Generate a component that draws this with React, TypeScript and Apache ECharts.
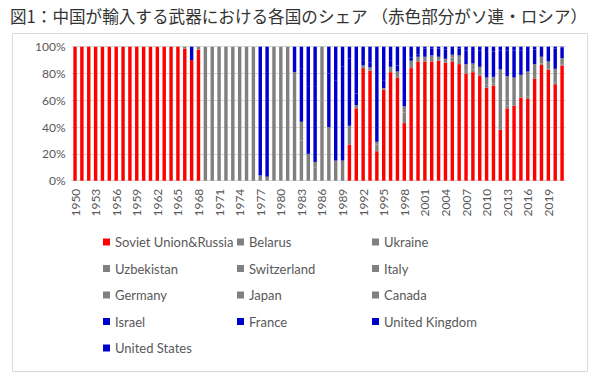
import React, { useEffect, useRef } from "react";
import * as echarts from "echarts";

const TITLE = "図1：中国が輸入する武器における各国のシェア （赤色部分がソ連・ロシア）";

const years: string[] = [];
for (let y = 1950; y <= 2021; y++) years.push(String(y));

const yTicks = [0, 20, 40, 60, 80, 100];

// [year, share %]
const soviet: [number, number][] = [
  [1950, 100], [1951, 100], [1952, 100], [1953, 100], [1954, 100], [1955, 100], [1956, 100], [1957, 100], [1958, 100], [1959, 100],
  [1960, 100], [1961, 100], [1962, 100], [1963, 100], [1964, 100], [1965, 100], [1966, 98.5], [1967, 90], [1968, 98],
  [1990, 27], [1991, 54], [1992, 84], [1993, 82], [1994, 22], [1995, 68], [1996, 81], [1997, 77], [1998, 43], [1999, 84],
  [2000, 89], [2001, 89], [2002, 89], [2003, 89.5], [2004, 88], [2005, 89], [2006, 87], [2007, 80], [2008, 81], [2009, 78.5],
  [2010, 69.5], [2011, 71], [2012, 38], [2013, 54], [2014, 56], [2015, 62], [2016, 61], [2017, 76], [2018, 86.5], [2019, 83],
  [2020, 72], [2021, 86],
];
const belarus: [number, number][] = [
  [2007, 2], [2008, 2], [2009, 1.5], [2010, 2], [2011, 1.5], [2012, 2], [2013, 2], [2014, 2], [2015, 2], [2016, 2],
  [2017, 2], [2018, 1], [2019, 1], [2020, 1.5], [2021, 0.5],
];
const ukraine: [number, number][] = [
  [1992, 2], [1993, 2.5], [1994, 5], [1995, 1], [1996, 4], [1997, 4.5], [1998, 8], [1999, 5.5],
  [2000, 3.5], [2001, 3.5], [2002, 4.5], [2003, 3], [2004, 3], [2005, 3], [2006, 4], [2007, 5], [2008, 4.5], [2009, 5],
  [2010, 5.5], [2011, 5], [2012, 43], [2013, 22], [2014, 19], [2015, 15], [2016, 18.5], [2017, 9], [2018, 5], [2019, 5],
  [2020, 10], [2021, 5],
];
const uzbekistan: [number, number][] = [[1998, 4.5], [2005, 2], [2006, 2.5]];
const switzerland: [number, number][] = [[1966, 1.5], [1968, 2], [1991, 2.5], [1994, 2]];
const italy: [number, number][] = [
  [1983, 30], [1984, 20], [1985, 10], [1986, 60], [1987, 40], [1988, 15], [1989, 15], [1990, 14],
];
const germany: [number, number][] = [
  [1969, 100], [1970, 100], [1971, 100], [1972, 100], [1973, 100], [1974, 100], [1975, 100], [1976, 100],
  [1977, 4], [1978, 3], [1979, 100], [1980, 100], [1981, 100], [1982, 81], [1986, 40],
];
const japan: [number, number][] = [[1983, 14]];
const canada: [number, number][] = [[1985, 4]];
const israel: [number, number][] = [
  [1991, 8.5], [1992, 4], [1993, 3.5], [1994, 11], [1995, 6], [1996, 5], [1997, 4.5], [1998, 8.5], [1999, 2.5], [2000, 1.5],
];
const france: [number, number][] = [
  [1967, 10], [1982, 19], [1983, 40], [1984, 50], [1985, 56], [1987, 40], [1988, 60], [1989, 70],
  [1990, 50], [1991, 35], [1992, 10], [1993, 12], [1994, 60], [1995, 25], [1996, 10], [1997, 14], [1998, 36], [1999, 8],
  [2000, 6], [2001, 6], [2002, 5], [2003, 6], [2004, 7], [2005, 5], [2006, 5], [2007, 10], [2008, 10], [2009, 12],
  [2010, 19], [2011, 19], [2012, 14], [2013, 19], [2014, 20], [2015, 18], [2016, 16], [2017, 11], [2018, 6.5], [2019, 10],
  [2020, 15], [2021, 8],
];
const unitedKingdom: [number, number][] = [
  [1977, 96], [1978, 97], [1983, 16], [1990, 9],
  [2001, 1.5], [2002, 1.5], [2003, 1.5], [2004, 2], [2005, 1], [2006, 1.5], [2007, 3], [2008, 2.5], [2009, 3],
  [2010, 4], [2011, 3.5], [2012, 3], [2013, 3], [2014, 3], [2015, 3], [2016, 2.5], [2017, 2], [2018, 1], [2019, 1],
  [2020, 1.5], [2021, 0.5],
];
const unitedStates: [number, number][] = [[1984, 30], [1985, 30], [1987, 20], [1988, 25], [1989, 15]];

const RED = "#FF0000";
const GRAY = "#808080";
const BLUE = "#0000CC";

const countries = [
  { name: "Soviet Union&Russia", color: RED, values: soviet },
  { name: "Belarus", color: GRAY, values: belarus },
  { name: "Ukraine", color: GRAY, values: ukraine },
  { name: "Uzbekistan", color: GRAY, values: uzbekistan },
  { name: "Switzerland", color: GRAY, values: switzerland },
  { name: "Italy", color: GRAY, values: italy },
  { name: "Germany", color: GRAY, values: germany },
  { name: "Japan", color: GRAY, values: japan },
  { name: "Canada", color: GRAY, values: canada },
  { name: "Israel", color: BLUE, values: israel },
  { name: "France", color: BLUE, values: france },
  { name: "United Kingdom", color: BLUE, values: unitedKingdom },
  { name: "United States", color: BLUE, values: unitedStates },
];

const legendCols = [
  { left: 103, names: ["Soviet Union&Russia", "Uzbekistan", "Germany", "Israel", "United States"] },
  { left: 237, names: ["Belarus", "Switzerland", "Japan", "France"] },
  { left: 372, names: ["Ukraine", "Italy", "Canada", "United Kingdom"] },
];

const FONT = "Lato, 'Liberation Sans', sans-serif";
const TXT = "#595959";

export default function App() {
  const ref = useRef<HTMLDivElement>(null);
  useEffect(() => {
    document.body.style.margin = "0";
    if (!ref.current) return;
    const chart = echarts.init(ref.current, null, { renderer: "svg" });

    const full = countries.map((c) => {
      const arr = years.map(() => 0);
      c.values.forEach(([y, v]) => {
        arr[y - 1950] = v;
      });
      return arr;
    });
    const totals = years.map((_, i) => full.reduce((s, a) => s + a[i], 0));

    chart.setOption({
      animation: false,
      textStyle: { fontFamily: FONT },
      graphic: [
        {
          type: "text",
          left: 10,
          top: 8,
          style: {
            text: TITLE,
            fontFamily: "'Noto Sans CJK JP', sans-serif",
            fontSize: 16.6,
            fill: "#333333",
          },
        },
        {
          type: "rect",
          shape: { x: 12.5, y: 33.5, width: 575, height: 338 },
          style: { fill: "none", stroke: "#D9D9D9", lineWidth: 1 },
          z: -1,
        },
      ],
      grid: { left: 71.6, right: 34.5, top: 46.7, bottom: 194.3, containLabel: false },
      legend: legendCols.map((col) => ({
        left: col.left,
        top: 234,
        orient: "vertical",
        padding: 0,
        itemGap: 10.5,
        itemWidth: 7,
        itemHeight: 7,
        icon: "rect",
        data: col.names,
        textStyle: { fontFamily: FONT, fontSize: 13, color: TXT, lineHeight: 16 },
      })),
      xAxis: {
        type: "category",
        data: years,
        axisLine: { lineStyle: { color: "#D9D9D9" } },
        axisTick: { show: false },
        axisLabel: { interval: 2, rotate: 90, fontSize: 12, color: TXT, margin: 8, fontFamily: FONT },
      },
      yAxis: {
        type: "value",
        min: yTicks[0],
        max: yTicks[yTicks.length - 1],
        interval: 20,
        axisLine: { show: false },
        axisTick: { show: false },
        splitLine: { lineStyle: { color: "#D9D9D9", width: 1 } },
        axisLabel: { formatter: "{value}%", fontSize: 12, color: TXT, margin: 6, fontFamily: FONT },
      },
      series: countries.map((c, k) => ({
        name: c.name,
        type: "bar",
        stack: "share",
        barWidth: "50%",
        itemStyle: { color: c.color },
        data: full[k].map((v, i) => (totals[i] ? (v / totals[i]) * 100 : 0)),
      })),
    });
    return () => chart.dispose();
  }, []);
  return <div ref={ref} style={{ width: 600, height: 375 }} />;
}
